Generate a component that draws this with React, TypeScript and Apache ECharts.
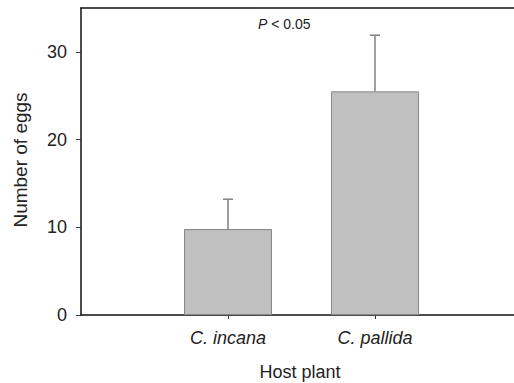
import React, { useEffect, useRef } from "react";
import * as echarts from "echarts";

const categories = ["C. incana", "C. pallida"];
const means = [9.8, 25.5];
const upperErrors = [13.2, 31.9];
const yTicks = [0, 10, 20, 30];
const yMax = 35;
const xTitle = "Host plant";
const yTitle = "Number of eggs";

export default function App() {
  const ref = useRef<HTMLDivElement>(null);
  useEffect(() => {
    if (!ref.current) return;
    const chart = echarts.init(ref.current, undefined, { renderer: "svg" });
    const font = "'Liberation Sans', Arial, sans-serif";
    const positions = categories.map((c, i) => i + 1);
    const barData = categories.map((c, i) => [i + 1, means[i]]);
    const errData = categories.map((c, i) => [i + 1, means[i], upperErrors[i]]);
    const xExtent = 433 / 147;
    chart.setOption({
      animation: false,
      backgroundColor: "#fff",
      grid: {
        left: 81,
        top: 8,
        width: 433,
        height: 307,
        outerBoundsMode: "none",
        containLabel: false,
        show: false,
      },
      xAxis: [
        {
          type: "value",
          min: 0,
          max: xExtent,
          interval: 1,
          axisLine: { show: true, lineStyle: { color: "#111", width: 1.5 } },
          axisTick: {
            show: true,
            length: 4,
            customValues: positions,
            lineStyle: { color: "#333", width: 1 },
          },
          axisLabel: {
            customValues: positions,
            formatter: (v: number) => categories[Math.round(v) - 1] ?? "",
            margin: 14,
            fontSize: 18,
            fontStyle: "italic",
            fontFamily: font,
            color: "#222",
          },
          splitLine: { show: false },
        },
        {
          type: "value",
          position: "top",
          min: 0,
          max: xExtent,
          axisLine: { show: true, lineStyle: { color: "#111", width: 1.5 } },
          axisTick: { show: false },
          axisLabel: { show: false },
          splitLine: { show: false },
        },
      ],
      yAxis: {
        type: "value",
        min: 0,
        max: yMax,
        interval: 10,
        axisLine: { show: true, lineStyle: { color: "#111", width: 1.5 } },
        axisTick: { show: true, length: 5, customValues: yTicks, lineStyle: { color: "#333", width: 1 } },
        axisLabel: { customValues: yTicks, margin: 14, fontSize: 18, fontFamily: font, color: "#222" },
        splitLine: { show: false },
      },
      series: [
        {
          type: "bar",
          data: barData,
          barWidth: 88,
          itemStyle: { color: "#c0c0c0", borderColor: "#888", borderWidth: 1 },
          z: 2,
        },
        {
          type: "custom",
          data: errData,
          z: 3,
          renderItem: (params: any, api: any) => {
            const x = api.value(0);
            const base = api.coord([x, api.value(1)]);
            const top = api.coord([x, api.value(2)]);
            const cap = 5;
            const style = { stroke: "#888", lineWidth: 1.6 };
            return {
              type: "group",
              children: [
                { type: "line", shape: { x1: base[0], y1: base[1], x2: top[0], y2: top[1] }, style },
                { type: "line", shape: { x1: top[0] - cap, y1: top[1], x2: top[0] + cap, y2: top[1] }, style },
              ],
            };
          },
        },
      ],
      graphic: [
        {
          type: "text",
          left: 258,
          top: 17,
          style: {
            text: "{i|P} < 0.05",
            rich: { i: { fontStyle: "italic", fontSize: 14, fontFamily: font, fill: "#222" } },
            fontSize: 14,
            fontFamily: font,
            fill: "#222",
          },
        },
        {
          type: "text",
          x: 300,
          y: 372,
          style: {
            text: xTitle,
            fontSize: 18,
            fontFamily: font,
            fill: "#222",
            align: "center",
            verticalAlign: "middle",
          },
        },
        {
          type: "text",
          x: 20,
          y: 160,
          rotation: Math.PI / 2,
          style: {
            text: yTitle,
            fontSize: 19,
            fontFamily: font,
            fill: "#222",
            align: "center",
            verticalAlign: "middle",
          },
        },
      ],
    });
    return () => chart.dispose();
  }, []);
  return <div ref={ref} style={{ width: 514, height: 383, position: "absolute", left: 0, top: 0, overflow: "hidden" }} />;
}
